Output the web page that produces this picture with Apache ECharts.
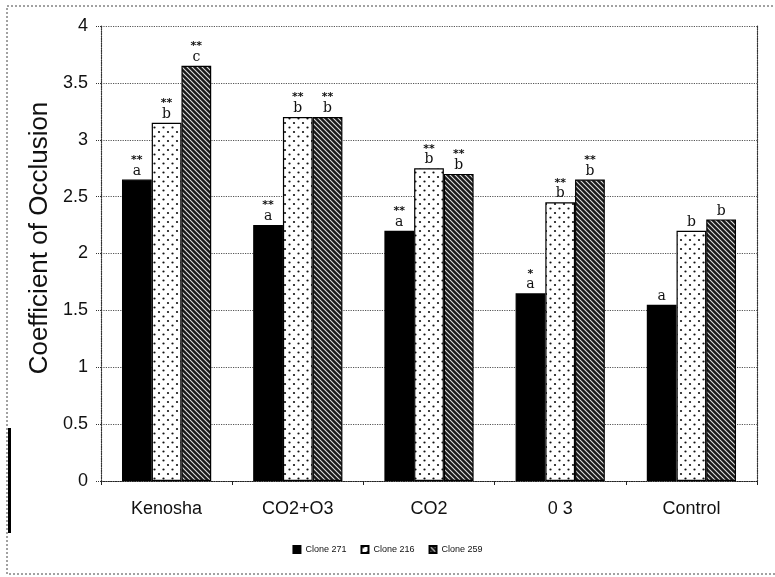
<!DOCTYPE html>
<html><head><meta charset="utf-8">
<script src="https://cdn.jsdelivr.net/npm/echarts@6/dist/echarts.min.js"></script>
<style>html,body{margin:0;padding:0;background:#fff}#c{width:775px;height:577px}</style>
</head><body><div id="c"></div>
<script>
const categories = ['Kenosha', 'CO2+O3', 'CO2', '0 3', 'Control'];
const seriesNames = ['Clone 271', 'Clone 216', 'Clone 259'];
const clone271 = [2.65, 2.25, 2.2, 1.65, 1.55];
const clone216 = [3.15, 3.2, 2.75, 2.45, 2.2];
const clone259 = [3.65, 3.2, 2.7, 2.65, 2.3];
const stars271 = ['**', '**', '**', '*', ''];
const stars216 = ['**', '**', '**', '**', ''];
const stars259 = ['**', '**', '**', '**', ''];
const letters271 = ['a', 'a', 'a', 'a', 'a'];
const letters216 = ['b', 'b', 'b', 'b', 'b'];
const letters259 = ['c', 'b', 'b', 'b', 'b'];
const yTicks = [0, 0.5, 1, 1.5, 2, 2.5, 3, 3.5, 4];
const yTitle = 'Coefficient of Occlusion';

function dotPattern() {
  const c = document.createElement('canvas'); c.width = 9; c.height = 9;
  const g = c.getContext('2d');
  g.fillStyle = '#fff'; g.fillRect(0, 0, 9, 9);
  g.fillStyle = '#111';
  [[1.5, 1.5], [6, 6]].forEach(p => { g.beginPath(); g.arc(p[0], p[1], 1.1, 0, Math.PI * 2); g.fill(); });
  return c;
}
function hatchPattern() {
  const s = 5;
  const c = document.createElement('canvas'); c.width = s; c.height = s;
  const g = c.getContext('2d');
  g.fillStyle = '#1a1a1a'; g.fillRect(0, 0, s, s);
  g.strokeStyle = '#e0e0e0'; g.lineWidth = 1.1;
  g.beginPath();
  g.moveTo(-s, -s); g.lineTo(2 * s, 2 * s);
  g.moveTo(-s, 0); g.lineTo(s, 2 * s);
  g.moveTo(0, -s); g.lineTo(2 * s, s);
  g.stroke();
  return c;
}
const fills = ['#000', { image: dotPattern(), repeat: 'repeat' }, { image: hatchPattern(), repeat: 'repeat' }];
const values = [clone271, clone216, clone259];
const stars = [stars271, stars216, stars259];
const letters = [letters271, letters216, letters259];

const chart = echarts.init(document.getElementById('c'), null, { renderer: 'canvas' });
const series = seriesNames.map((name, si) => ({
  name, type: 'bar', data: values[si],
  barGap: '0%', barCategoryGap: '32%',
  itemStyle: { color: fills[si], borderColor: '#000', borderWidth: 1.2 },
  label: {
    show: true, position: 'top', distance: 2,
    formatter: p => (stars[si][p.dataIndex] ? '{s|' + stars[si][p.dataIndex] + '}\n' : '') + '{l|' + letters[si][p.dataIndex] + '}',
    rich: {
      s: { fontFamily: 'DejaVu Sans', fontSize: 11, fontWeight: 'bold', color: '#111', lineHeight: 9, align: 'center' },
      l: { fontFamily: 'DejaVu Serif', fontSize: 14, color: '#111', lineHeight: 13, align: 'center' }
    }
  }
}));

chart.setOption({
  animation: false,
  backgroundColor: '#fff',
  grid: { left: 101, right: 18, top: 26, bottom: 96, containLabel: false },
  legend: {
    bottom: 18, left: 'center', itemWidth: 7, itemHeight: 7, itemGap: 14,
    textStyle: { fontFamily: 'Liberation Sans', fontSize: 9, color: '#111' },
    icon: 'rect',
    data: seriesNames
  },
  xAxis: {
    type: 'category', data: categories,
    axisLine: { lineStyle: { color: '#222', type: 'dotted', width: 1.2 } },
    axisTick: { show: true, alignWithLabel: false, length: 4, lineStyle: { color: '#222' } },
    axisLabel: { fontFamily: 'Liberation Sans', fontSize: 18, color: '#111', margin: 19 }
  },
  yAxis: [{
    type: 'value', min: 0, max: 4, interval: 0.5,
    axisLine: { show: true, lineStyle: { color: '#333', type: 'dotted', width: 1.2 } },
    axisTick: { show: true, length: 6, lineStyle: { color: '#333', type: 'dotted' } },
    axisLabel: { fontFamily: 'Liberation Sans', fontSize: 18, color: '#111', margin: 13,
      formatter: v => yTicks.indexOf(v) >= 0 ? String(v) : '' },
    splitLine: { show: true, lineStyle: { color: '#555', type: 'dotted', width: 1.2 } }
  }, {
    type: 'value', min: 0, max: 4, interval: 0.5, position: 'right',
    axisLine: { show: true, lineStyle: { color: '#333', type: 'dotted', width: 1.2 } },
    axisTick: { show: false }, axisLabel: { show: false }, splitLine: { show: false }
  }],
  series,
  graphic: [
    { type: 'rect', shape: { x: 7, y: 6, width: 790, height: 568 }, style: { fill: 'none', stroke: '#444', lineWidth: 1, lineDash: [2, 2] }, silent: true },
    { type: 'rect', shape: { x: 8, y: 428, width: 3, height: 105 }, style: { fill: '#000' }, silent: true },
    { type: 'text', x: 40, y: 238, rotation: Math.PI / 2, silent: true,
      style: { text: yTitle, fontFamily: 'Liberation Sans', fontSize: 26, fill: '#111', align: 'center', verticalAlign: 'middle' } }
  ]
});
</script></body></html>
